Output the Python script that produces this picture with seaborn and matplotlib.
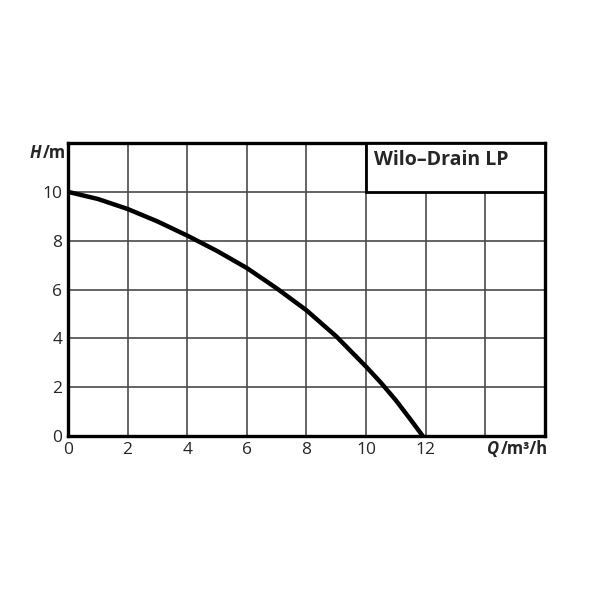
import matplotlib
matplotlib.use("Agg")
import matplotlib.pyplot as plt
import pandas as pd
import seaborn as sns
from matplotlib.patches import Rectangle

# pump curve
flow = [0, 1, 2, 3, 4, 5, 6, 7, 8, 9, 10, 10.5, 11, 11.5, 11.9]
head = [10.0, 9.71, 9.30, 8.79, 8.21, 7.58, 6.88, 6.05, 5.15, 4.08, 2.84, 2.18, 1.46, 0.66, 0.0]
x_ticks = [0, 2, 4, 6, 8, 10, 12]
y_ticks = [0, 2, 4, 6, 8, 10]
title = "Wilo–Drain LP"

sns.set_style("white")
plt.rcParams["font.family"] = ["Open Sans", "DejaVu Sans"]

df = pd.DataFrame({"Q": flow, "H": head})

fig = plt.figure(figsize=(6, 6), dpi=100)
ax = fig.add_axes([0.1133, 0.2733, 0.795, 0.4883])

# grid
for gx in range(2, 16, 2):
    ax.axvline(gx, color="#4a4a4a", lw=1.2, zorder=1)
for gy in range(2, 12, 2):
    ax.axhline(gy, color="#4a4a4a", lw=1.2, zorder=1)

sns.lineplot(data=df, x="Q", y="H", ax=ax, color="black", lw=3.2, zorder=3)
ax.lines[-1].set_solid_joinstyle("round")

# title box in the top right corner
ax.add_patch(Rectangle((10, 10), 6, 2, facecolor="white", edgecolor="black",
                       lw=2, zorder=4, clip_on=False))
ax.text(10.28, 11.3, title, fontsize=14, fontweight="bold", va="center",
        ha="left", zorder=5)

ax.set_xlim(0, 16)
ax.set_ylim(0, 12)
ax.set_xticks(x_ticks)
ax.set_yticks(y_ticks)
ax.tick_params(length=0, labelsize=12.5, pad=4)
ax.set_xlabel("")
ax.set_ylabel("")
for s in ax.spines.values():
    s.set_linewidth(2.4)
    s.set_color("black")

# axis titles: italic symbol followed by the unit
h_sym = fig.text(30 / 600, 1 - 153 / 600, "H", fontsize=12, fontweight="bold",
                 fontstyle="italic", ha="left", va="center")
ax.annotate("/m", xy=(1, 0.5), xycoords=h_sym, xytext=(1, 0),
            textcoords="offset points", fontsize=12, fontweight="bold",
            ha="left", va="center")
q_sym = fig.text(487 / 600, 1 - 449 / 600, "Q", fontsize=12, fontweight="bold",
                 fontstyle="italic", ha="left", va="center")
ax.annotate("/m³/h", xy=(1, 0.5), xycoords=q_sym, xytext=(1, 0),
            textcoords="offset points", fontsize=12, fontweight="bold",
            ha="left", va="center")

fig.savefig("out.png", dpi=100, facecolor="white")
